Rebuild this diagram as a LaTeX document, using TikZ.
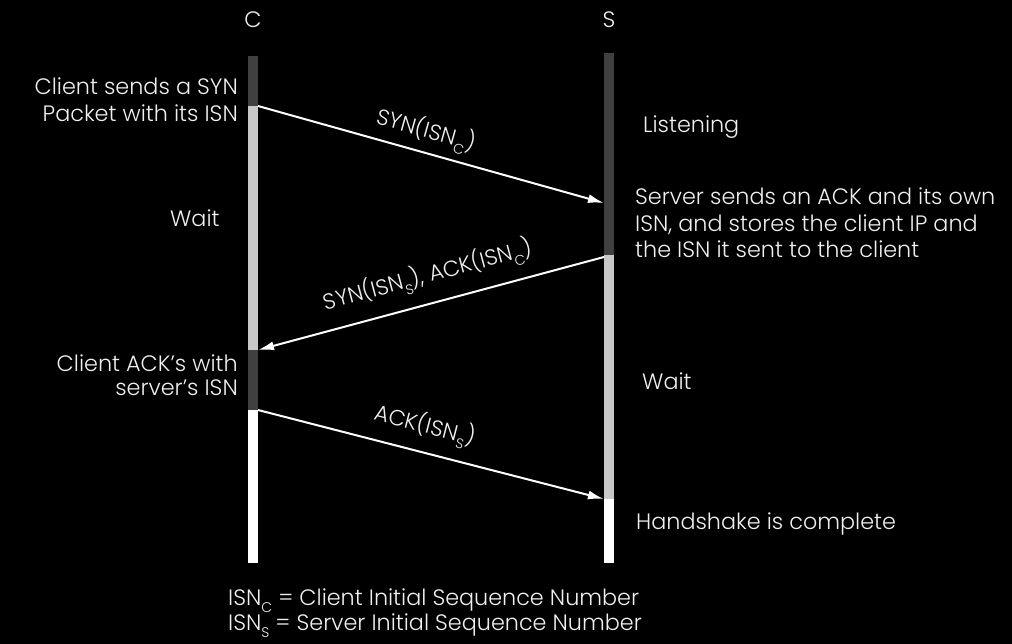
\documentclass[tikz,border=0pt]{standalone}
\usepackage{fontspec}
\setmainfont{Poppins Light}
\usetikzlibrary{arrows.meta}
\definecolor{bardark}{HTML}{404040}
\definecolor{barlight}{HTML}{C8C8C8}
\definecolor{txt}{HTML}{F0F0F0}
\newcommand\mysub[1]{\raisebox{-0.33em}{\fontsize{14}{14}\selectfont #1}}
\begin{document}
\begin{tikzpicture}[x=1pt,y=-1pt,
  lbl/.style={text=txt,inner sep=0pt,font=\fontsize{22.3}{22.3}\selectfont},
  msglbl/.style={text=txt,inner sep=0pt,font=\fontsize{22}{22}\selectfont},
  msg/.style={draw=white,line width=2pt,-{Latex[length=16pt,width=9pt]}},
  ]
\fill[black] (0,0) rectangle (1012,644);
\useasboundingbox (0,0) rectangle (1012,644);
% life lines
\fill[bardark]  (248,56)  rectangle (258,106);
\fill[barlight] (248,106) rectangle (258,350);
\fill[bardark]  (248,350) rectangle (258,410);
\fill[white]    (248,410) rectangle (258,563);
\fill[bardark]  (604,53)  rectangle (614,255);
\fill[barlight] (604,255) rectangle (614,499);
\fill[white]    (604,499) rectangle (614,563);
% anchor points
\coordinate (c1) at (258,106);
\coordinate (s1) at (604,203);
\coordinate (s2) at (604,257);
\coordinate (c2) at (258,350);
\coordinate (c3) at (258,410);
\coordinate (s3) at (604,499);
% headers
\node[lbl] (hc) at (253,20) {C};
\node[lbl] (hs) at (609,20) {S};
% messages
\draw[msg] (c1) -- (s1);
\draw[msg] (s2) -- (c2);
\draw[msg] (c3) -- (s3);
\node[msglbl,rotate=-15.66] (m1) at (426,131) {SYN(ISN\mysub{C})};
\node[msglbl,rotate=15.04] (m2) at (428,276) {SYN(ISN\mysub{S}), ACK(ISN\mysub{C})};
\node[msglbl,rotate=-14.4] (m3) at (425,426) {ACK(ISN\mysub{S})};
% client side texts
\node[lbl,anchor=base east] (t1a) at (238,95) {Client sends a SYN};
\node[lbl,anchor=base east] (t1b) at (238,122) {Packet with its ISN};
\node[lbl,anchor=base west] (t2) at (170,227) {Wait};
\node[lbl,anchor=base east] (t3a) at (238,371) {Client ACK’s with};
\node[lbl,anchor=base east] (t3b) at (238,395) {server’s ISN};
% server side texts
\node[lbl,anchor=base west] (u1) at (643,133) {Listening};
\node[lbl,anchor=base west] (u2a) at (635,205) {Server sends an ACK and its own};
\node[lbl,anchor=base west] (u2b) at (635,232) {ISN, and stores the client IP and};
\node[lbl,anchor=base west] (u2c) at (635,258) {the ISN it sent to the client};
\node[lbl,anchor=base west] (u3) at (642,389) {Wait};
\node[lbl,anchor=base west] (u4) at (636,529) {Handshake is complete};
% legend
\node[lbl,anchor=base west] (l1) at (228,605) {ISN\mysub{C} = Client Initial Sequence Number};
\node[lbl,anchor=base west] (l2) at (228,630) {ISN\mysub{S} = Server Initial Sequence Number};
\end{tikzpicture}
\end{document}
